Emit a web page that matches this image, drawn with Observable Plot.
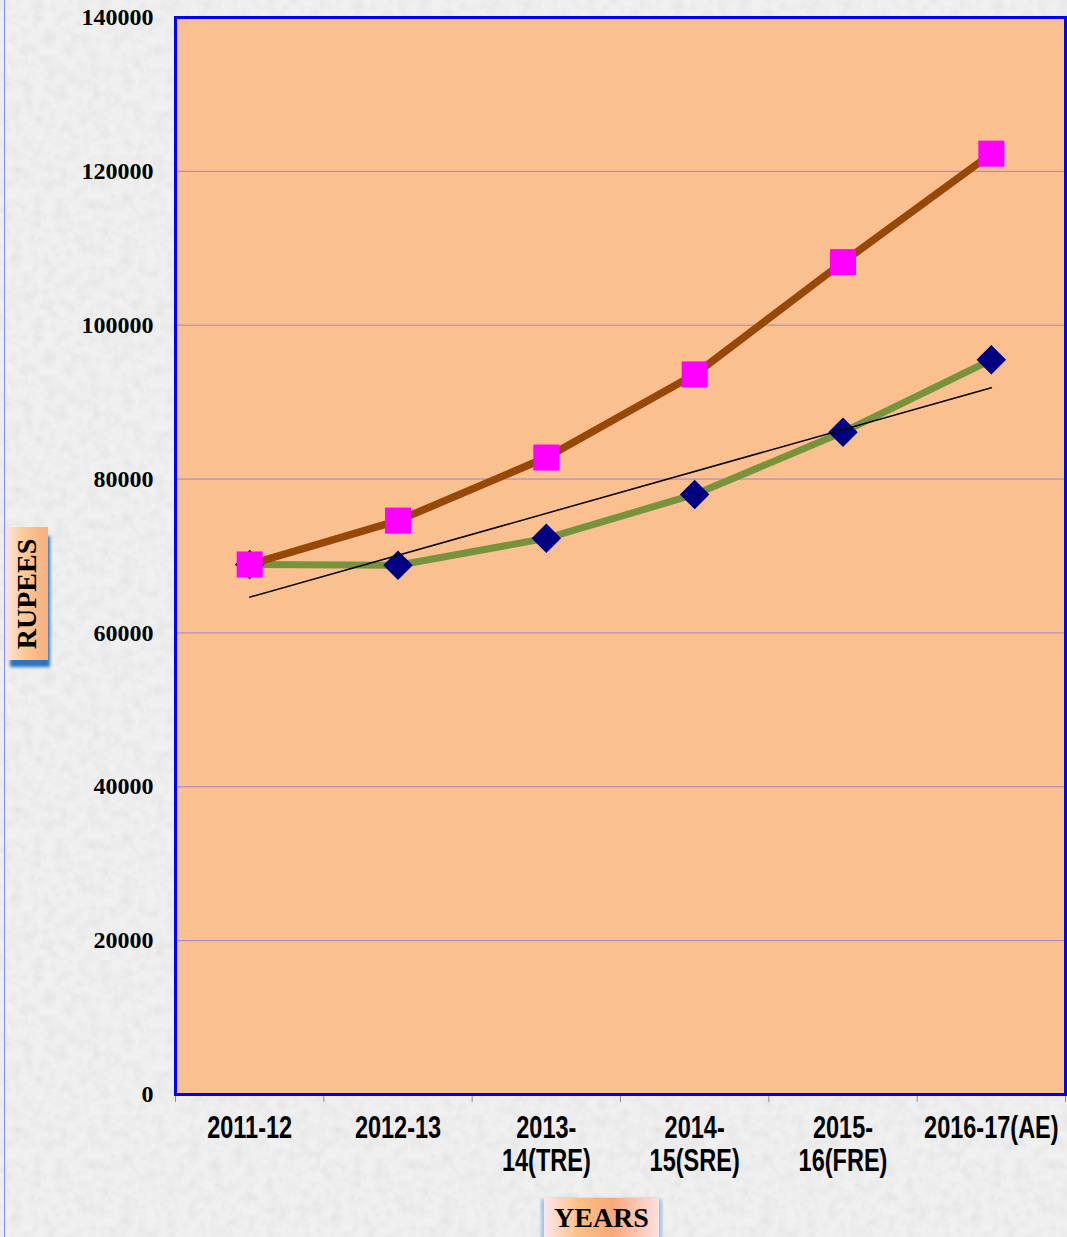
<!DOCTYPE html>
<html>
<head>
<meta charset="utf-8">
<script src="https://cdn.jsdelivr.net/npm/d3@7"></script>
<script src="https://cdn.jsdelivr.net/npm/@observablehq/plot@0.6"></script>
<style>
  html, body { margin: 0; padding: 0; }
  body { width: 1067px; height: 1237px; overflow: hidden; }
  #wrap {
    position: relative; width: 1067px; height: 1237px; overflow: hidden;
    background-color: #ececec;
    background-image: url("data:image/svg+xml;utf8,<svg xmlns='http://www.w3.org/2000/svg' width='320' height='320'><filter id='n'><feTurbulence type='fractalNoise' baseFrequency='0.09' numOctaves='3' seed='4'/><feColorMatrix values='0 0 0 0 0.6  0 0 0 0 0.6  0 0 0 0 0.6  0.55 0 0 0 -0.2'/></filter><rect width='100%' height='100%' fill='%23f0f0f0'/><rect width='100%' height='100%' filter='url(%23n)'/></svg>");
  }
  #edge { position: absolute; left: 4px; top: 0; width: 1px; height: 1237px; background: #8a8aff; }
  #chart { position: absolute; left: 0; top: 0; }
  #chart svg { background: transparent; overflow: visible; display: block; }
  #ylab {
    position: absolute; left: 6px; top: 527px; width: 42px; height: 133px;
    background: linear-gradient(to right, #fde3e6 0%, #fbcf9e 35%, #f9b886 75%, #f7b080 100%);
    box-shadow: 3px 8px 3px -1px #2a74c4;
  }
  #ylab span {
    position: absolute; left: 50%; top: 50%;
    transform: translate(-50%, -50%) rotate(-90deg);
    font: bold 28px "Liberation Serif", "Times New Roman", serif; color: #000;
    white-space: nowrap;
  }
  #xlab {
    position: absolute; left: 544px; top: 1198px; width: 115px; height: 50px;
    background: linear-gradient(to right, #fde6ee 0%, #fbc184 30%, #f9a87a 60%, #fde0e2 100%);
    box-shadow: -4px 0 3px -1px #9cc4e8, 4px 0 3px -1px #9cc4e8;
  }
  #xlab span {
    position: absolute; left: 10px; top: 4px;
    font: bold 28px "Liberation Serif", "Times New Roman", serif; color: #000;
    white-space: nowrap;
  }
</style>
</head>
<body>
<div id="wrap">
  <div id="edge"></div>
  <div id="chart"></div>
  <div id="ylab"><span>RUPEES</span></div>
  <div id="xlab"><span>YEARS</span></div>
</div>
<script>
// ---- data ----
const categories = ["2011-12", "2012-13", "2013-\n14(TRE)", "2014-\n15(SRE)", "2015-\n16(FRE)", "2016-17(AE)"];
const seriesDiamond = [68900, 68800, 72300, 78000, 86100, 95500];   // navy diamonds, green line
const seriesSquare  = [68900, 74600, 82800, 93600, 108200, 122300]; // pink squares, brown line
const yTicks = [0, 20000, 40000, 60000, 80000, 100000, 120000, 140000];
const gridValues = [20000, 40000, 60000, 80000, 100000, 120000];

const idx = categories.map((_, i) => i);
const boundaries = [...idx.map(i => i - 0.5), categories.length - 0.5];
const dataD = idx.map(i => ({i, v: seriesDiamond[i]}));
const dataS = idx.map(i => ({i, v: seriesSquare[i]}));

const STRETCH = 1.3;

const chart = Plot.plot({
  width: 1067,
  height: 1237,
  marginLeft: 175,
  marginRight: 2,
  marginTop: 17,
  marginBottom: 143,
  style: {background: "transparent", overflow: "visible"},
  x: {type: "linear", domain: [-0.5, categories.length - 0.5]},
  y: {domain: [0, 140000]},
  marks: [
    Plot.frame({fill: "#FAC090", stroke: "none"}),
    Plot.ruleY(gridValues, {stroke: "#9d86c9", strokeWidth: 1}),
    Plot.axisY(yTicks, {
      tickSize: 0, tickPadding: 22, tickFormat: d => String(d),
      fontFamily: "Liberation Serif, Times New Roman, serif", fontWeight: "bold",
      fontSize: 24, fill: "#000", label: null
    }),
    Plot.axisX(boundaries, {
      tickSize: 8, tickFormat: () => "", stroke: "#8c8c8c", strokeWidth: 1, label: null
    }),
    Plot.axisX(idx, {
      tickSize: 0, tickPadding: 27, tickFormat: i => categories[i],
      fontFamily: "Liberation Sans, Arial, sans-serif",
      fontWeight: "bold", fontSize: 23.5, lineHeight: 33 / STRETCH / 23.5, fill: "#000", label: null
    }),
    Plot.line(dataD, {x: "i", y: "v", stroke: "#77933C", strokeWidth: 7}),
    Plot.dot(dataD, {x: "i", y: "v", symbol: "diamond2", r: 13.3, fill: "#000080", stroke: "none"}),
    Plot.line(dataS, {x: "i", y: "v", stroke: "#974706", strokeWidth: 7.5}),
    Plot.dot(dataS, {x: "i", y: "v", symbol: "square", r: 14.7, fill: "#FF00FF", stroke: "none"}),
    Plot.linearRegressionY(dataD, {x: "i", y: "v", stroke: "#000", strokeWidth: 1.5, ci: 0}),
    Plot.frame({stroke: "#0000ff", strokeWidth: 3, fill: "none"})
  ]
});
document.getElementById("chart").appendChild(chart);

// Stretch the x tick labels vertically (the reference uses a tall, condensed face),
// scaling each label about its own top edge.
const svgTop = chart.getBoundingClientRect().top;
chart.querySelectorAll('g[aria-label="x-axis tick label"] text').forEach(el => {
  if (!el.textContent.trim()) return;
  const top = el.getBoundingClientRect().top - svgTop;
  const g = document.createElementNS("http://www.w3.org/2000/svg", "g");
  g.setAttribute("transform", `translate(0,${top}) scale(1,${STRETCH}) translate(0,${-top})`);
  el.parentNode.insertBefore(g, el);
  g.appendChild(el);
});
</script>
</body>
</html>
